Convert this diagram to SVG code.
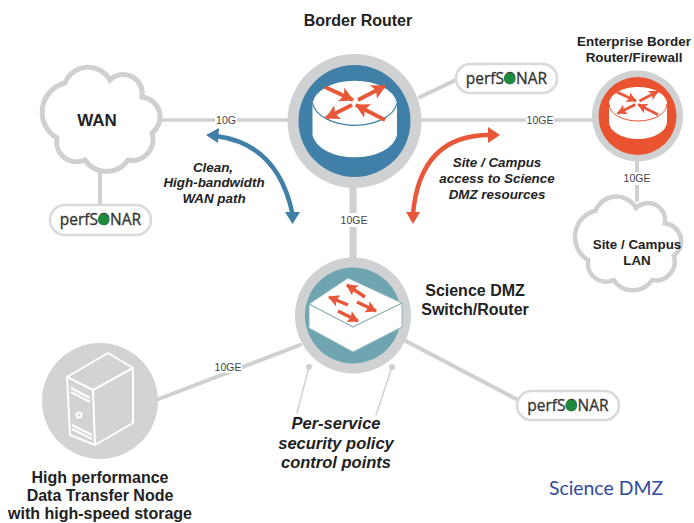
<svg xmlns="http://www.w3.org/2000/svg" width="694" height="523" viewBox="0 0 694 523">
<style>
text{font-family:"Liberation Sans",Arial,sans-serif;text-anchor:middle;fill:#222}
.b{font-weight:bold;font-size:16px}
.s{font-weight:bold;font-size:13.400px}
.i{font-weight:bold;font-style:italic;font-size:13.400px}
.p{font-weight:bold;font-style:italic;font-size:16.500px}
.l{font-size:10.500px;fill:#444}
.ps{font-family:"Open Sans","Noto Sans",sans-serif;font-size:15.500px;fill:#333;stroke:#333;stroke-width:.3}
.c{stroke:#cfd0d2;fill:none;stroke-linecap:round}
.pill{fill:#fff;stroke:#d8d9da;stroke-width:2.500}
.cloud{fill:#fff;stroke:#cfd0d2;stroke-width:5}
.ar{stroke:#e9573a;fill:none}
.srv{stroke:#fff;stroke-width:2;fill:none;stroke-linejoin:round}
</style>
<defs>
<marker id="hr" markerUnits="userSpaceOnUse" markerWidth="16" markerHeight="16" refX="13" refY="7.500" orient="auto"><path d="M0,0L14,7.500L0,15L3,7.500Z" fill="#e9573a"/></marker>
<marker id="hs" markerUnits="userSpaceOnUse" markerWidth="13" markerHeight="13" refX="10" refY="6" orient="auto"><path d="M0,0L11,6L0,12L2,6Z" fill="#e9573a"/></marker>
<path id="cl" d="M65,83A25,25 0 0 1 110,80A19,19 0 0 1 142,97A20,20 0 0 1 152,133A21,21 0 0 1 128,160A26,26 0 0 1 85,160A20,20 0 0 1 57,138A30,30 0 0 1 65,83Z"/>
<g id="ra">
<path d="M325,87L353,100" class="ar" stroke-width="4" marker-end="url(#hr)"/>
<path d="M358,100L385,86" class="ar" stroke-width="4" marker-end="url(#hr)"/>
<path d="M352,105L326,118" class="ar" stroke-width="4" marker-end="url(#hr)"/>
<path d="M385,120L356,105" class="ar" stroke-width="4" marker-end="url(#hr)"/>
</g>
</defs>

<g id="connectors">
<path class="c" stroke-width="3.500" d="M158,120H290"/>
<path class="c" stroke-width="3.500" d="M420,120H592"/>
<path class="c" stroke-width="4" d="M420,97L456,80"/>
<path class="c" stroke-width="7" d="M353,186V258" stroke-linecap="butt"/>
<path class="c" stroke-width="4" d="M637,160V200"/>
<path class="c" stroke-width="4" d="M100,168V205"/>
<path class="c" stroke-width="4" d="M156,400L300,345"/>
<path class="c" stroke-width="4" d="M404,340L518,400"/>
<path class="c" stroke-width="1.500" d="M309,367L297,413"/>
<path class="c" stroke-width="1.500" d="M392,367L376,415"/>
<circle cx="309" cy="367" r="3" fill="#cfd0d2"/>
<circle cx="392" cy="367" r="3" fill="#cfd0d2"/>
<path d="M216,136Q278,144 292.500,214" stroke="#3f7fa8" stroke-width="4.500" fill="none"/>
<path d="M206,135L219,128L218,143Z M292.500,224L285,212L300,212Z" fill="#3f7fa8"/>
<path d="M490,135Q420,135 413,214" stroke="#e9573a" stroke-width="4.500" fill="none"/>
<path d="M500,135L488,127L488,143Z M413,224L406,212L420,212Z" fill="#e9573a"/>
<rect x="215" y="113" width="22" height="13" fill="#fff"/><text class="l" x="226" y="124">10G</text>
<rect x="526" y="113" width="28" height="13" fill="#fff"/><text class="l" x="540" y="124">10GE</text>
<rect x="340" y="213" width="28" height="14" fill="#fff"/><text class="l" x="354" y="224">10GE</text>
<rect x="624" y="172" width="27" height="13" fill="#fff"/><text class="l" x="637" y="182">10GE</text>
<rect x="214" y="360" width="28" height="13" fill="#fff"/><text class="l" x="228" y="371">10GE</text>
</g>

<g id="wan">
<use href="#cl" class="cloud"/>
<text x="97" y="126" font-weight="bold" font-size="17">WAN</text>
</g>
<g id="site-lan">
<use href="#cl" class="cloud" transform="translate(537,136) scale(.9)"/>
<text class="s" x="637" y="249">Site / Campus</text>
<text class="s" x="637" y="265">LAN</text>
</g>
<g id="perfsonar-wan">
<rect class="pill" x="50" y="205" width="101" height="30" rx="15"/>
<text class="ps" x="100.500" y="225">perfSONAR</text>
<circle cx="103.500" cy="219.500" r="5.700" fill="#1f8a3c"/>
</g>
<g id="perfsonar-border">
<rect class="pill" x="456" y="64" width="101" height="29" rx="14.500"/>
<text class="ps" x="506.500" y="84">perfSONAR</text>
<circle cx="509.500" cy="78.500" r="5.700" fill="#1f8a3c"/>
</g>
<g id="perfsonar-dmz">
<rect class="pill" x="517" y="391" width="102" height="29" rx="14.500"/>
<text class="ps" x="568" y="411">perfSONAR</text>
<circle cx="571" cy="405.500" r="5.700" fill="#1f8a3c"/>
</g>

<g id="border-router">
<text class="b" x="358" y="26">Border Router</text>
<circle cx="354.500" cy="121" r="67" fill="#cfd1d3"/>
<circle cx="354.500" cy="121" r="56" fill="#3f7fa8"/>
<path d="M312.500,103A42.500,25 0 0 1 397,103V135A42.500,25 0 0 1 312.500,135Z" fill="#fff"/>
<path d="M312.500,103A42.500,25 0 0 0 397,103" fill="none" stroke="#3f7fa8" stroke-width="1.200"/>
<use href="#ra"/>
</g>

<g id="enterprise-firewall">
<text class="s" x="634" y="46">Enterprise Border</text>
<text class="s" x="634" y="62">Router/Firewall</text>
<circle cx="637.500" cy="116" r="45.500" fill="#cfd1d3"/>
<circle cx="637.500" cy="116" r="39" fill="#e9532f"/>
<path d="M609,104A29,17 0 0 1 667,104V122A29,17 0 0 1 609,122Z" fill="#fff"/>
<path d="M609,104A29,17 0 0 0 667,104" fill="none" stroke="#e9532f" stroke-width="1"/>
<use href="#ra" transform="translate(392.500,32) scale(.69)"/>
</g>

<g id="dmz-switch">
<text class="b" x="475" y="296">Science DMZ</text>
<text class="b" x="475" y="315">Switch/Router</text>
<circle cx="353" cy="315.500" r="58" fill="#cfd1d3"/>
<circle cx="353" cy="315.500" r="48" fill="#6fa5b1"/>
<path d="M309,304L348,278L402,303L353,327ZM309,304V328L353,352L402,327V303L353,327Z" fill="#fff" stroke="#8fb4bd" stroke-width="1"/>
<path d="M365,297L347,285" class="ar" stroke-width="3.500" marker-end="url(#hs)"/>
<path d="M348,305L329,297" class="ar" stroke-width="3.500" marker-end="url(#hs)"/>
<path d="M357,302L376,311" class="ar" stroke-width="3.500" marker-end="url(#hs)"/>
<path d="M338,311L358,321" class="ar" stroke-width="3.500" marker-end="url(#hs)"/>
</g>

<g id="dtn">
<circle cx="100" cy="401" r="58" fill="#d2d3d5"/>
<path class="srv" d="M67,377L108,353L133,368V423L95,445L70,435ZM67,377L93,390L133,368M93,390L95,445"/>
<path class="srv" stroke-width="1.200" d="M71,388L90,398M71,392L90,402M72,425L92,435M72,429L92,439"/>
<circle class="srv" cx="79" cy="415" r="2.500"/>
<text class="b" x="100" y="483">High performance</text>
<text class="b" x="100" y="501">Data Transfer Node</text>
<text class="b" x="100" y="518.500">with high-speed storage</text>
</g>

<text class="i" x="213" y="172">Clean,</text>
<text class="i" x="214" y="187">High-bandwidth</text>
<text class="i" x="214" y="203">WAN path</text>
<text class="i" x="497" y="167">Site / Campus</text>
<text class="i" x="497" y="183">access to Science</text>
<text class="i" x="497" y="199">DMZ resources</text>
<text class="p" x="336" y="429">Per-service</text>
<text class="p" x="336" y="449">security policy</text>
<text class="p" x="336" y="468">control points</text>
<text x="606" y="495" style="font-family:Lato,sans-serif;font-size:19.400px;fill:#2f4a9c">Science DMZ</text>
</svg>
